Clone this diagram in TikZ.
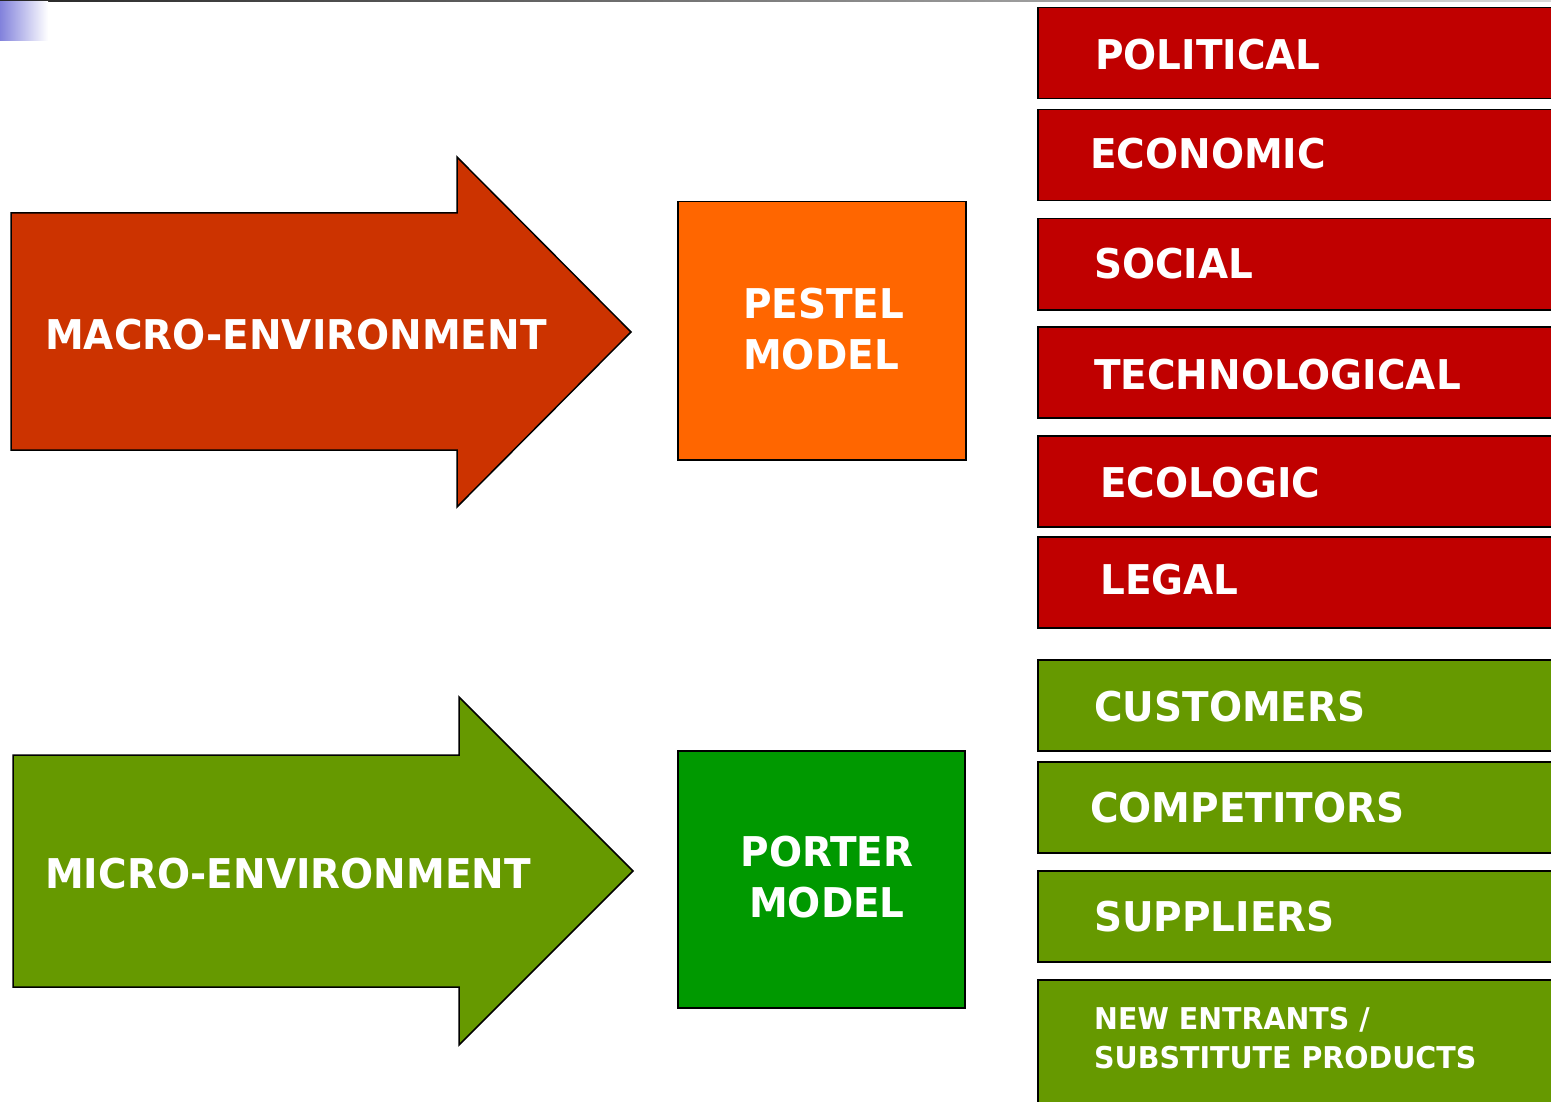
\documentclass[tikz,border=0pt]{standalone}
\usepackage{fontspec}
\setmainfont{DejaVu Sans}[FakeStretch=0.95]
\definecolor{macroc}{HTML}{CC3300}
\definecolor{microc}{HTML}{669900}
\definecolor{pestelc}{HTML}{FF6600}
\definecolor{porterc}{HTML}{009900}
\definecolor{redc}{HTML}{C00000}
\definecolor{greenc}{HTML}{669900}
\definecolor{blueg}{RGB}{130,130,220}
\begin{document}
\begin{tikzpicture}[x=1pt,y=-1pt,line join=miter,
  box/.style={draw=black,line width=1.5pt,inner sep=0pt,anchor=north west,minimum width=540pt},
  redbox/.style={box,fill=redc,minimum height=91pt},
  greenbox/.style={box,fill=greenc,minimum height=91pt},
  shapeline/.style={draw=black,line width=1.5pt},
  lbl/.style={text=white,font=\fontsize{41}{51}\selectfont\bfseries,inner sep=0pt,anchor=base west},
  mlbl/.style={text=white,font=\fontsize{41}{51}\selectfont\bfseries,inner sep=0pt},
  slbl/.style={text=white,font=\fontsize{30}{39}\selectfont\bfseries,inner sep=0pt,align=left,anchor=west}]
\useasboundingbox (0,0) rectangle (1551,1102);
\clip (0,0) rectangle (1551,1102);
% header decoration
\shade[left color=black!85,right color=black!15] (0,0) rectangle (1551,2);
\shade[left color=blueg,right color=white] (0,2) rectangle (48,41);
% big arrows
\draw[shapeline,fill=macroc] (11,213) -- (457,213) -- (457,157) -- (631,332) -- (457,507) -- (457,450) -- (11,450) -- cycle;
\draw[shapeline,fill=microc] (13,755) -- (459,755) -- (459,697) -- (633,871) -- (459,1045) -- (459,987) -- (13,987) -- cycle;
\node[lbl] (macro) at (45,349) {MACRO-ENVIRONMENT};
\node[lbl] (micro) at (45,888) {MICRO-ENVIRONMENT};
% model boxes
\node[box,fill=pestelc,minimum width=288pt,minimum height=258pt] (pestel) at (677,201) {};
\node[mlbl,align=left,anchor=west] (pestelt) at (743,329) {PESTEL\\MODEL};
\node[box,fill=porterc,minimum width=287pt,minimum height=257pt] (porter) at (677,750) {};
\node[mlbl,align=center] (portert) at (827,877) {PORTER\\MODEL};
% PESTEL factors
\node[redbox] (pol) at (1037,7) {};
\node[redbox] (eco) at (1037,109) {};
\node[redbox] (soc) at (1037,218) {};
\node[redbox] (tec) at (1037,326) {};
\node[redbox] (ecol) at (1037,435) {};
\node[redbox] (leg) at (1037,536) {};
\node[lbl] (polt) at (1095,70) {POLITICAL};
\node[lbl] (ecot) at (1090,169) {ECONOMIC};
\node[lbl] (soct) at (1094,279) {SOCIAL};
\node[lbl] (tect) at (1094,389) {TECHNOLOGICAL};
\node[lbl] (eclt) at (1100,497) {ECOLOGIC};
\node[lbl] (legt) at (1100,594) {LEGAL};
% Porter factors
\node[greenbox] (cus) at (1037,659) {};
\node[greenbox] (com) at (1037,761) {};
\node[greenbox] (sup) at (1037,870) {};
\node[greenbox,minimum height=140pt] (new) at (1037,979) {};
\node[lbl] (cust) at (1094,721) {CUSTOMERS};
\node[lbl] (comt) at (1090,822) {COMPETITORS};
\node[lbl] (supt) at (1094,931) {SUPPLIERS};
\node[slbl] (newt) at (1094,1038) {NEW ENTRANTS /\\SUBSTITUTE PRODUCTS};
\end{tikzpicture}
\end{document}
